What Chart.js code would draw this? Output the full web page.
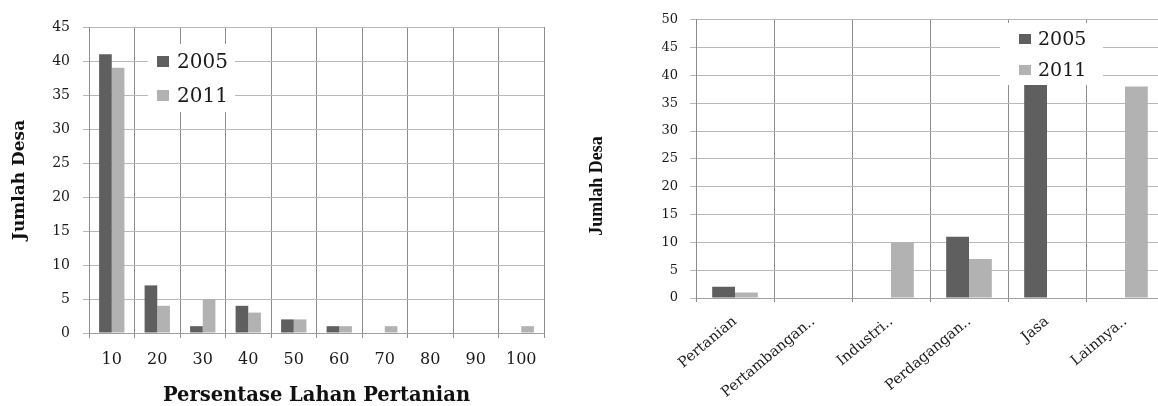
<!DOCTYPE html>
<html>
<head>
<meta charset="utf-8">
<script src="https://cdn.jsdelivr.net/npm/chart.js@4.4.1/dist/chart.umd.min.js"></script>
<style>
  html, body { margin: 0; padding: 0; background: #fff; overflow: hidden; width: 1158px; height: 406px; }
  #c1 { position: absolute; left: 0; top: 0; }
  #c2 { position: absolute; left: 578px; top: 0; }
</style>
</head>
<body>
<canvas id="c1" width="560" height="406"></canvas>
<canvas id="c2" width="600" height="406"></canvas>
<script>
// ---- Data: left chart ----
const leftCategories = ['10', '20', '30', '40', '50', '60', '70', '80', '90', '100'];
const left2005 = [41, 7, 1, 4, 2, 1, 0, 0, 0, 0];
const left2011 = [39, 4, 5, 3, 2, 1, 1, 0, 0, 1];
const leftXTitle = 'Persentase Lahan Pertanian';
const leftYTitle = 'Jumlah Desa';

// ---- Data: right chart ----
const rightCategories = ['Pertanian', 'Pertambangan..', 'Industri..', 'Perdagangan..', 'Jasa', 'Lainnya..'];
const right2005 = [2, 0, 0, 11, 43, 0];
const right2011 = [1, 0, 10, 7, 0, 38];
const rightYTitle = 'Jumlah Desa';

const seriesLabels = ['2005', '2011'];
const seriesColors = ['#5f5f5f', '#b2b2b2'];

// legend drawn on top of the bars (like the original, which hides the top of a bar)
const boxLegend = {
  id: 'boxLegend',
  afterDatasetsDraw(chart, args, o) {
    const ctx = chart.ctx;
    ctx.save();
    ctx.fillStyle = '#ffffff';
    ctx.fillRect(o.box[0], o.box[1], o.box[2], o.box[3]);
    chart.data.datasets.forEach((ds, i) => {
      ctx.fillStyle = ds.backgroundColor;
      ctx.fillRect(o.sx, o.sy + i * o.gap, o.sw, o.sh);
      ctx.fillStyle = '#1a1a1a';
      ctx.font = o.font;
      ctx.textAlign = 'left';
      ctx.textBaseline = 'alphabetic';
      ctx.fillText(ds.label, o.tx, o.ty + i * o.gap);
    });
    ctx.restore();
  }
};

// vertical axis title placed where the original has it (not centred on the plot)
const sideTitle = {
  id: 'sideTitle',
  afterDraw(chart, args, o) {
    if (!o || !o.text) return;
    const ctx = chart.ctx;
    ctx.save();
    ctx.translate(o.x, o.y);
    ctx.rotate(-Math.PI / 2);
    ctx.fillStyle = '#111';
    ctx.font = o.font;
    ctx.textAlign = 'center';
    ctx.textBaseline = 'middle';
    ctx.fillText(o.text, 0, 0);
    ctx.restore();
  }
};

const vGrid = '#8c8c8c';
const hGrid = '#b8b8b8';
const txt = '#1a1a1a';

new Chart(document.getElementById('c1'), {
  type: 'bar',
  data: {
    labels: leftCategories,
    datasets: [
      { label: seriesLabels[0], data: left2005, backgroundColor: seriesColors[0], borderWidth: 0 },
      { label: seriesLabels[1], data: left2011, backgroundColor: seriesColors[1], borderWidth: 0 }
    ]
  },
  options: {
    responsive: false,
    devicePixelRatio: 1,
    animation: false,
    events: [],
    layout: { padding: { left: 11, top: 27, right: 16, bottom: 0 } },
    datasets: { bar: { categoryPercentage: 0.556, barPercentage: 1 } },
    plugins: {
      legend: { display: false },
      tooltip: { enabled: false },
      boxLegend: { box: [148, 44, 87, 68], sx: 157, sy: 56, sw: 12, sh: 11, gap: 34,
                   tx: 177, ty: 67.5, font: '20px "DejaVu Serif"' }
    },
    scales: {
      x: {
        grid: { color: vGrid, tickLength: 5, offset: true },
        border: { color: '#a0a0a0' },
        ticks: { color: txt, font: { family: 'DejaVu Serif', size: 16 }, padding: 12, maxRotation: 0, autoSkip: false },
        title: { display: true, text: leftXTitle, color: '#111', padding: 0,
                 font: { family: 'DejaVu Serif', size: 19.5, weight: 'bold', lineHeight: 1 } },
        afterFit: s => { s.height = 73; }
      },
      y: {
        min: 0, max: 45,
        grid: { color: hGrid, tickLength: 6 },
        border: { color: vGrid },
        ticks: { stepSize: 5, color: txt, font: { family: 'DejaVu Serif', size: 14 }, padding: 13 },
        title: { display: true, text: leftYTitle, color: '#111', padding: 0,
                 font: { family: 'DejaVu Serif', size: 17, weight: 'bold', lineHeight: 1 } },
        afterFit: s => { s.width = 78; }
      }
    }
  },
  plugins: [boxLegend]
});

new Chart(document.getElementById('c2'), {
  type: 'bar',
  data: {
    labels: rightCategories,
    datasets: [
      { label: seriesLabels[0], data: right2005, backgroundColor: seriesColors[0], borderWidth: 0 },
      { label: seriesLabels[1], data: right2011, backgroundColor: seriesColors[1], borderWidth: 0 }
    ]
  },
  options: {
    responsive: false,
    devicePixelRatio: 1,
    animation: false,
    events: [],
    layout: { padding: { left: 10, top: 14, right: 14, bottom: 0 } },
    datasets: { bar: { categoryPercentage: 0.585, barPercentage: 1 } },
    plugins: {
      legend: { display: false },
      tooltip: { enabled: false },
      boxLegend: { box: [422, 23, 103, 62], sx: 441, sy: 34, sw: 12, sh: 10, gap: 31,
                   tx: 460, ty: 45, font: '19px "DejaVu Serif"' },
      sideTitle: { text: rightYTitle, x: 19, y: 186, font: 'bold 18px "Liberation Serif"' }
    },
    scales: {
      x: {
        grid: { color: vGrid, tickLength: 4, offset: true },
        border: { color: '#a0a0a0' },
        ticks: { color: txt, font: { family: 'DejaVu Serif', size: 14.5 }, padding: 11, minRotation: 40, maxRotation: 40, autoSkip: false },
        afterFit: s => { s.height = 108; }
      },
      y: {
        min: 0, max: 50,
        grid: { color: hGrid, tickLength: 6 },
        border: { color: vGrid },
        ticks: { stepSize: 5, color: txt, font: { family: 'DejaVu Serif', size: 13 }, padding: 12 },
        title: { display: false },
        afterFit: s => { s.width = 108; }
      }
    }
  },
  plugins: [boxLegend, sideTitle]
});
</script>
</body>
</html>
